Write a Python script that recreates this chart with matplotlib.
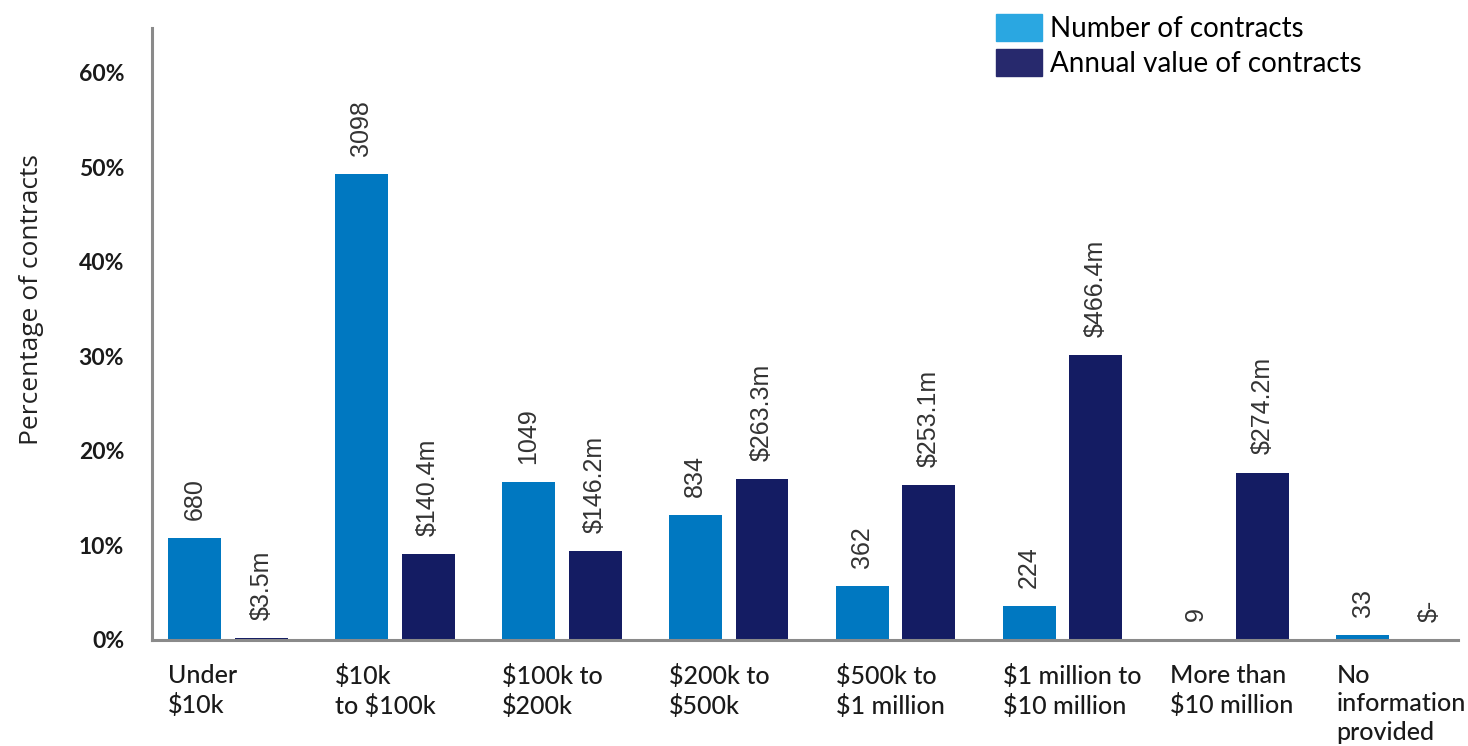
import matplotlib
matplotlib.use("Agg")
import matplotlib.pyplot as plt
from matplotlib.patches import Patch

# contract size bands
categories = ["Under\n$10k", "$10k\nto $100k", "$100k to\n$200k", "$200k to\n$500k",
              "$500k to\n$1 million", "$1 million to\n$10 million", "More than\n$10 million",
              "No\ninformation\nprovided"]
# number of contracts per band
counts = [680, 3098, 1049, 834, 362, 224, 9, 33]
# annual value of contracts per band, $m
values = [3.5, 140.4, 146.2, 263.3, 253.1, 466.4, 274.2, 0.0]
value_labels = ["$3.5m", "$140.4m", "$146.2m", "$263.3m", "$253.1m", "$466.4m", "$274.2m", "$-"]

count_pct = [c / sum(counts) * 100 for c in counts]
value_pct = [v / sum(values) * 100 for v in values]

c_count = "#0078c1"
c_value = "#141c63"
spine_c = "#8a8a8a"

fig = plt.figure(figsize=(14.68, 7.46), dpi=100)
ax = fig.add_axes([152 / 1468, (746 - 640) / 746, (1458 - 152) / 1468, (640 - 28) / 746])

x = list(range(len(categories)))
w = 0.317
off = 0.2
ax.bar([i - off for i in x], count_pct, width=w, color=c_count, zorder=2)
ax.bar([i + off for i in x], value_pct, width=w, color=c_value, zorder=2)

lab_font = dict(family=["Liberation Sans", "DejaVu Sans"], fontsize=18, color="#333333",
                rotation=90, ha="center", va="bottom")
for i in x:
    ax.annotate(str(counts[i]), (i - off, count_pct[i]), xytext=(0, 13),
                textcoords="offset points", **lab_font)
    ax.annotate(value_labels[i], (i + off, value_pct[i]), xytext=(0, 13),
                textcoords="offset points", **lab_font)

ax.set_xlim(-0.455, 7.37)
ax.set_ylim(0, 60 * (640 - 28) / (640 - 73))
ax.set_yticks([0, 10, 20, 30, 40, 50, 60])
ax.set_yticklabels([f"{t}%" for t in [0, 10, 20, 30, 40, 50, 60]],
                   fontsize=16.5, fontfamily="Lato", fontweight="bold", color="#1a1a1a")
ax.tick_params(axis="y", length=0, pad=20)
ax.set_xticks([])

for s in ["top", "right"]:
    ax.spines[s].set_visible(False)
for s in ["left", "bottom"]:
    ax.spines[s].set_color(spine_c)
    ax.spines[s].set_linewidth(2.2)

# category labels, left-aligned under the first bar of each group
for i, cat in enumerate(categories):
    ax.text(i - off - w / 2, -2.5, cat, ha="left", va="top", fontsize=18,
            fontfamily="Lato", fontweight="medium", color="#1a1a1a", linespacing=1.3)

ax.set_ylabel("Percentage of contracts", fontsize=19, fontfamily="Open Sans",
              color="#222222")
ax.yaxis.set_label_coords(-0.083, (640 - 300) / (640 - 28))

handles = [Patch(color="#2aa7e1"), Patch(color="#27296d")]
fig.legend(handles, ["Number of contracts", "Annual value of contracts"],
           loc="upper left", bbox_to_anchor=(978 / 1468, 1.005), frameon=False,
           prop=dict(family="Lato", size=20), handlelength=1.65, handleheight=1.1,
           handletextpad=0.3, labelspacing=0.25, borderaxespad=0.25)

fig.savefig("out.png", dpi=100)
